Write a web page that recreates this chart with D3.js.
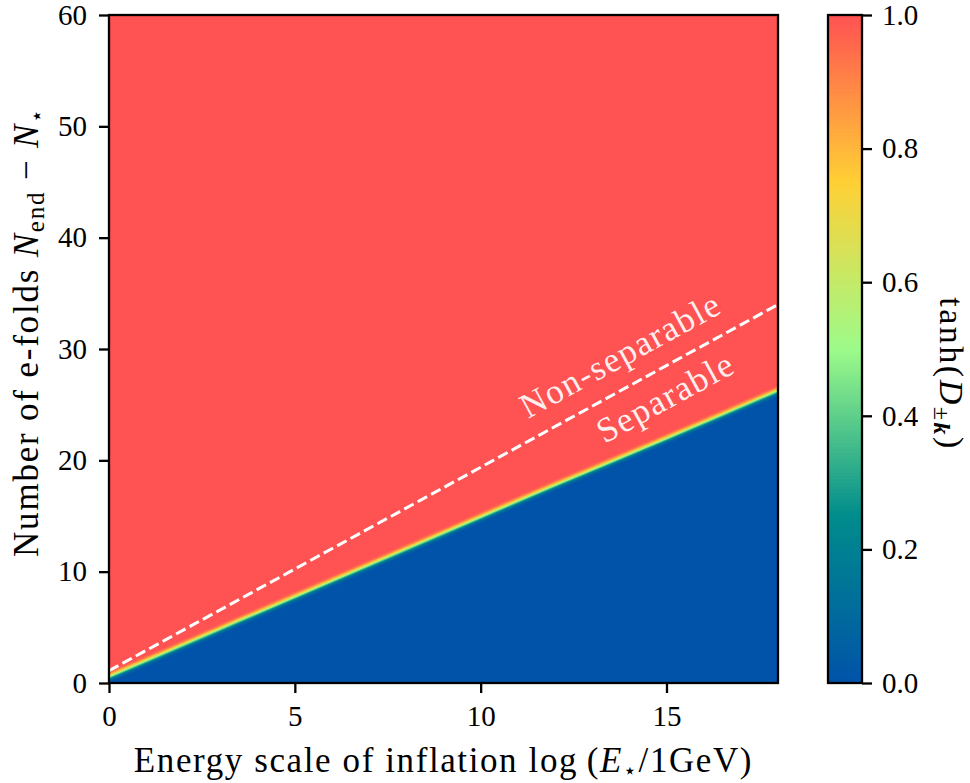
<!DOCTYPE html>
<html>
<head>
<meta charset="utf-8">
<script src="https://cdn.jsdelivr.net/npm/d3@7"></script>
<style>
  body { margin: 0; background: #fff; }
  text { font-family: "Liberation Serif", "DejaVu Serif", serif; fill: #000; }
</style>
</head>
<body>
<svg id="chart" width="970" height="783"></svg>
<script>
// boundary of the transition (centre of the colour band)
const boundaryE = [0, 3, 6, 9, 12, 15, 18];
const boundaryN = [0.6, 4.9, 9.2, 13.5, 17.8, 22.0, 26.3];

// dashed separability line
const dashE = [0, 18];
const dashN = [1.1, 34.0];

// profile across the band: offset in N from the boundary, value of tanh(D)
const profileDN = [0.45, 0.32, 0.2, 0.1, 0.0, -0.1, -0.2, -0.3, -0.4, -0.55];
const profileV  = [0.97, 0.9, 0.8, 0.68, 0.52, 0.36, 0.22, 0.12, 0.05, 0.0];

// colour map
const cmapStops  = [0, 0.25, 0.5, 0.75, 1];
const cmapColors = ["#0153a9", "#008c8c", "#9dfb8a", "#ffd035", "#ff5252"];

const xTicks = [0, 5, 10, 15];
const yTicks = [0, 10, 20, 30, 40, 50, 60];
const cbTicks = [0, 0.2, 0.4, 0.6, 0.8, 1.0];

const svg = d3.select("#chart");
const pL = 109, pR = 778, pT = 15, pB = 683;

const x = d3.scaleLinear().domain([0, 18]).range([pL, pR]);
const y = d3.scaleLinear().domain([0, 60]).range([pB, pT]);
const color = d3.scaleLinear().domain(cmapStops).range(cmapColors).interpolate(d3.interpolateRgb);

svg.append("defs").append("clipPath").attr("id", "clip")
  .append("rect").attr("x", pL).attr("y", pT)
  .attr("width", pR - pL).attr("height", pB - pT);

const plot = svg.append("g").attr("clip-path", "url(#clip)");

plot.append("rect")
  .attr("x", pL).attr("y", pT)
  .attr("width", pR - pL).attr("height", pB - pT)
  .attr("fill", color(1));

const pts = boundaryE.map((e, i) => [e, boundaryN[i]]);
profileDN.forEach((dn, i) => {
  const area = d3.area()
    .x(d => x(d[0]))
    .y0(y(0) + 5)
    .y1(d => y(d[1] + dn))
    .curve(d3.curveMonotoneX);
  plot.append("path").datum(pts)
    .attr("d", area)
    .attr("fill", color(profileV[i]));
});

plot.append("path")
  .datum(dashE.map((e, i) => [e, dashN[i]]))
  .attr("d", d3.line().x(d => x(d[0])).y(d => y(d[1])))
  .attr("fill", "none")
  .attr("stroke", "#fff")
  .attr("stroke-width", 3)
  .attr("stroke-dasharray", "10.7,4.6");

// annotations, rotated along the dashed line
const ang = Math.atan2(y(dashN[1]) - y(dashN[0]), x(dashE[1]) - x(dashE[0])) * 180 / Math.PI;
const notes = [
  { t: "Non-separable", e: 13.75, n: 29.5 },
  { t: "Separable", e: 14.96, n: 25.7 }
];
svg.selectAll(".note").data(notes).enter().append("text")
  .attr("class", "note")
  .attr("transform", d => `translate(${x(d.e)},${y(d.n)}) rotate(${ang})`)
  .attr("text-anchor", "middle")
  .attr("dy", "0.35em")
  .style("font-size", "35px")
  .style("letter-spacing", "1.5px")
  .style("fill", "#fff")
  .style("fill-opacity", 0.92)
  .text(d => d.t);

// frame
svg.append("rect")
  .attr("x", pL).attr("y", pT)
  .attr("width", pR - pL).attr("height", pB - pT)
  .attr("fill", "none").attr("stroke", "#000").attr("stroke-width", 2.3);

// axes
const xAxis = svg.append("g").attr("transform", `translate(0,${pB})`)
  .call(d3.axisBottom(x).tickValues(xTicks).tickSize(10).tickPadding(12));
const yAxis = svg.append("g").attr("transform", `translate(${pL},0)`)
  .call(d3.axisLeft(y).tickValues(yTicks).tickSize(10).tickPadding(12));

[xAxis, yAxis].forEach(g => {
  g.select(".domain").remove();
  g.selectAll(".tick line").attr("stroke-width", 2.3);
  g.selectAll(".tick text").style("font-size", "29px").attr("font-family", null);
});

// axis labels
svg.append("text")
  .attr("x", (pL + pR) / 2).attr("y", 772)
  .attr("text-anchor", "middle")
  .style("font-size", "35px")
  .style("letter-spacing", "1.6px")
  .call(t => {
    t.append("tspan").text("Energy scale of inflation log\u2009(");
    t.append("tspan").style("font-style", "italic").text("E");
    t.append("tspan").attr("dy", 6).style("font-size", "22px").text("\u22c6");
    t.append("tspan").attr("dy", -6).text("/1GeV)");
  });

svg.append("text")
  .attr("transform", `translate(38,332) rotate(-90)`)
  .attr("text-anchor", "middle")
  .style("font-size", "35px")
  .style("letter-spacing", "1.8px")
  .call(t => {
    t.append("tspan").text("Number of e-folds ");
    t.append("tspan").style("font-style", "italic").text("N");
    t.append("tspan").attr("dy", 6).style("font-size", "25px").text("end");
    t.append("tspan").attr("dy", -6).text(" \u2212 ");
    t.append("tspan").style("font-style", "italic").text("N");
    t.append("tspan").attr("dy", 6).style("font-size", "22px").text("\u22c6");
  });

// colour bar
const cbLeft = 828, cbRight = 862;
const cy = d3.scaleLinear().domain([0, 1]).range([pB, pT]);
const steps = d3.range(0, 1, 0.005);
svg.append("g").selectAll("rect").data(steps).enter().append("rect")
  .attr("x", cbLeft).attr("width", cbRight - cbLeft)
  .attr("y", d => cy(d + 0.005) - 0.5)
  .attr("height", d => cy(d) - cy(d + 0.005) + 1)
  .attr("fill", d => color(d + 0.0025));
svg.append("rect")
  .attr("x", cbLeft).attr("y", pT)
  .attr("width", cbRight - cbLeft).attr("height", pB - pT)
  .attr("fill", "none").attr("stroke", "#000").attr("stroke-width", 2.3);

const cbAxis = svg.append("g").attr("transform", `translate(${cbRight},0)`)
  .call(d3.axisRight(cy).tickValues(cbTicks).tickFormat(d3.format(".1f")).tickSize(10).tickPadding(10));
cbAxis.select(".domain").remove();
cbAxis.selectAll(".tick line").attr("stroke-width", 2.3);
cbAxis.selectAll(".tick text").style("font-size", "29px").attr("font-family", null);

svg.append("text")
  .attr("transform", `translate(940,${(pT + pB) / 2 + 25}) rotate(90)`)
  .attr("text-anchor", "middle")
  .style("font-size", "34px")
  .style("letter-spacing", "2.5px")
  .call(t => {
    t.append("tspan").text("tanh(");
    t.append("tspan").style("font-style", "italic").text("D");
    t.append("tspan").attr("dy", 6).style("font-size", "24px").text("\u00b1");
    t.append("tspan").style("font-size", "24px").style("font-style", "italic").style("font-weight", "bold").text("k");
    t.append("tspan").attr("dy", -6).text(")");
  });
</script>
</body>
</html>
